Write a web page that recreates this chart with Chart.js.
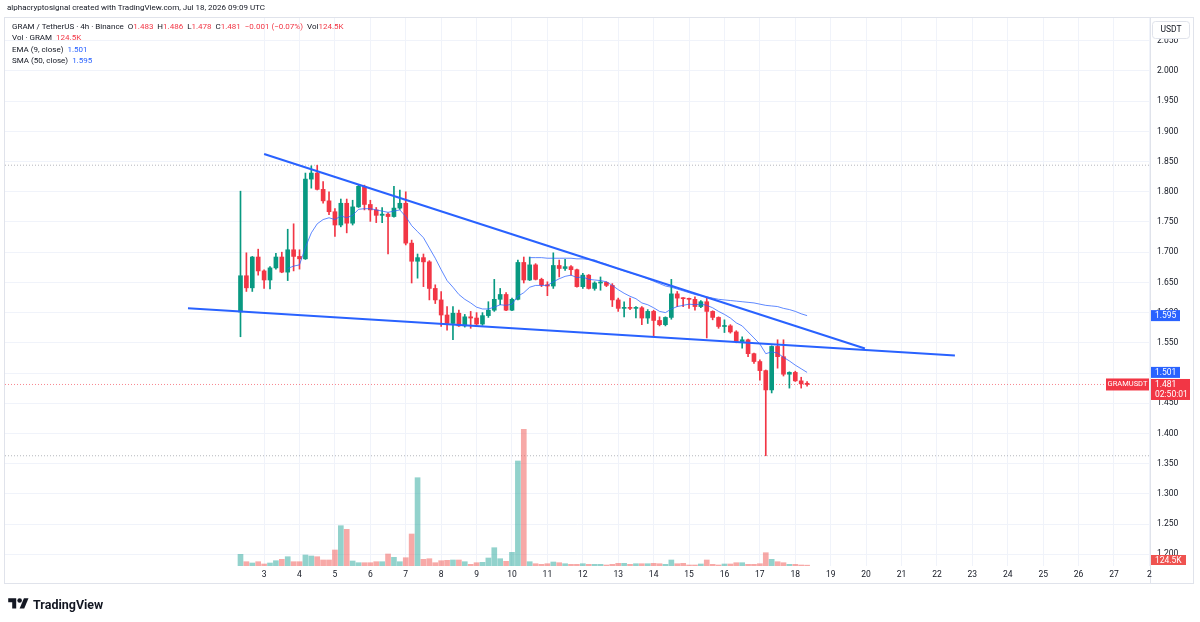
<!DOCTYPE html>
<html>
<head>
<meta charset="utf-8">
<script src="https://cdn.jsdelivr.net/npm/chart.js@4.4.1/dist/chart.umd.min.js"></script>
<style>
  body { margin: 0; background: #fff; font-family: Roboto, sans-serif; color: #131722; }
  #wrap { position: relative; width: 1200px; height: 622px; overflow: hidden; }
  canvas { position: absolute; left: 0; top: 0; }
  .t { position: absolute; white-space: nowrap; font-size: 8px; line-height: 10px; }
  .r { color: #f23645; }
  .b { color: #2962ff; }
  #logo { position: absolute; left: 8px; top: 596px; display: flex; align-items: center; font-weight: 700; font-size: 12.5px; color: #131722; }
  #logo svg { margin-right: 4px; }
</style>
</head>
<body>
<div id="wrap">
  <canvas id="chart" width="1200" height="622"></canvas>
  <div class="t" style="left:7px;top:3px">alphacryptosignal created with TradingView.com, Jul 18, 2026 09:09 UTC</div>
  <div class="t" style="left:12px;top:22px">GRAM / TetherUS · 4h · Binance&nbsp;&nbsp;O<span class="r">1.483</span>&nbsp; H<span class="r">1.486</span>&nbsp; L<span class="r">1.478</span>&nbsp; C<span class="r">1.481</span>&nbsp; <span class="r">−0.001 (−0.07%)</span>&nbsp; Vol<span class="r">124.5K</span></div>
  <div class="t" style="left:12px;top:33px">Vol · GRAM&nbsp; <span class="r">124.5K</span></div>
  <div class="t" style="left:12px;top:45px">EMA (9, close)&nbsp; <span class="b">1.501</span></div>
  <div class="t" style="left:12px;top:56px">SMA (50, close)&nbsp; <span class="b">1.595</span></div>
  <div id="logo">
    <svg width="21" height="16" viewBox="0 0 36 28"><path d="M14 22H7V11H0V4h14v18z" fill="#131722"/><circle cx="20" cy="8" r="4" fill="#131722"/><path d="M28 22h-8l7.5-18h8L28 22z" fill="#131722"/></svg>
    TradingView
  </div>
</div>
<script>
// 4h candles, index 0 = day 2 08:00 UTC
const opens = [1.601,1.661,1.641,1.692,1.669,1.654,1.674,1.692,1.667,1.704,
  1.693,1.689,1.821,1.831,1.804,1.785,1.767,1.745,1.781,1.748,
  1.775,1.809,1.779,1.770,1.761,1.763,1.759,1.773,1.781,1.715,
  1.685,1.691,1.684,1.640,1.621,1.596,1.582,1.599,1.578,1.593,
  1.591,1.581,1.595,1.604,1.622,1.630,1.604,1.622,1.683,1.654,
  1.679,1.655,1.646,1.644,1.678,1.673,1.676,1.671,1.643,1.662,
  1.640,1.649,1.650,1.645,1.621,1.607,1.608,1.607,1.608,1.591,
  1.602,1.587,1.580,1.592,1.631,1.624,1.623,1.622,1.610,1.618,
  1.602,1.592,1.577,1.578,1.568,1.552,1.555,1.532,1.519,1.504,
  1.472,1.544,1.527,1.498,1.501,1.487,1.483];
const highs = [1.801,1.699,1.693,1.705,1.671,1.676,1.698,1.700,1.738,1.747,
  1.704,1.831,1.843,1.844,1.817,1.800,1.772,1.788,1.788,1.786,
  1.811,1.811,1.786,1.774,1.774,1.765,1.809,1.803,1.800,1.720,
  1.697,1.697,1.686,1.646,1.635,1.610,1.610,1.604,1.597,1.602,
  1.600,1.600,1.618,1.655,1.640,1.633,1.624,1.687,1.692,1.692,
  1.681,1.657,1.651,1.699,1.687,1.688,1.678,1.672,1.665,1.663,
  1.651,1.659,1.651,1.648,1.624,1.618,1.624,1.610,1.610,1.605,
  1.604,1.593,1.593,1.655,1.635,1.625,1.624,1.626,1.620,1.624,
  1.603,1.593,1.588,1.580,1.570,1.560,1.556,1.533,1.522,1.505,
  1.545,1.555,1.555,1.502,1.503,1.493,1.486];
const lows = [1.560,1.635,1.635,1.662,1.640,1.639,1.672,1.666,1.653,1.669,
  1.672,1.688,1.806,1.803,1.781,1.762,1.726,1.742,1.732,1.745,
  1.774,1.770,1.751,1.749,1.749,1.697,1.758,1.771,1.712,1.649,
  1.657,1.643,1.621,1.615,1.577,1.571,1.555,1.577,1.576,1.574,
  1.577,1.579,1.592,1.602,1.613,1.603,1.603,1.621,1.649,1.653,
  1.654,1.643,1.628,1.640,1.659,1.670,1.662,1.642,1.640,1.639,
  1.637,1.637,1.643,1.610,1.602,1.593,1.605,1.591,1.580,1.582,
  1.561,1.578,1.578,1.589,1.610,1.610,1.607,1.604,1.608,1.558,
  1.588,1.574,1.567,1.566,1.550,1.541,1.527,1.516,1.488,1.363,
  1.467,1.508,1.495,1.475,1.486,1.475,1.478];
const closes = [1.661,1.641,1.692,1.669,1.654,1.674,1.692,1.667,1.704,1.693,
  1.689,1.821,1.831,1.804,1.785,1.767,1.745,1.781,1.748,1.775,
  1.809,1.779,1.770,1.761,1.763,1.759,1.773,1.781,1.715,1.685,
  1.691,1.684,1.640,1.621,1.596,1.582,1.599,1.578,1.593,1.591,
  1.581,1.595,1.604,1.622,1.630,1.604,1.622,1.683,1.654,1.679,
  1.655,1.646,1.644,1.678,1.673,1.676,1.671,1.643,1.662,1.640,
  1.649,1.650,1.645,1.621,1.607,1.608,1.607,1.608,1.591,1.602,
  1.587,1.580,1.592,1.631,1.624,1.623,1.622,1.610,1.618,1.602,
  1.592,1.577,1.578,1.568,1.552,1.555,1.532,1.519,1.504,1.472,
  1.544,1.527,1.498,1.501,1.487,1.482,1.481];
// volume in thousands
const volumes = [1750,645,450,645,300,450,795,1005,1395,645,
  645,1650,1500,1395,900,900,2400,6045,5505,750,
  495,495,495,645,645,1800,1305,645,1245,4800,
  13245,1005,1095,495,795,855,900,900,645,255,
  495,555,1200,2745,1095,705,2055,15750,20505,645,
  345,255,345,600,495,345,255,255,345,255,
  255,255,150,255,405,405,255,345,345,345,
  405,345,255,900,345,405,150,150,300,900,
  255,150,300,300,495,495,255,255,345,1995,
  1005,645,495,255,255,150,124.5];

const emaStart = 8;
const emaValues = [1.673,1.677,1.679,1.708,1.732,1.747,1.754,1.757,1.754,1.760,
  1.757,1.761,1.771,1.772,1.772,1.770,1.768,1.766,1.768,1.770,
  1.759,1.744,1.734,1.724,1.707,1.690,1.671,1.653,1.642,1.630,
  1.622,1.616,1.609,1.606,1.606,1.609,1.613,1.612,1.614,1.627,
  1.633,1.642,1.645,1.645,1.645,1.651,1.656,1.660,1.662,1.658,
  1.659,1.655,1.654,1.653,1.651,1.645,1.638,1.632,1.627,1.623,
  1.616,1.613,1.608,1.602,1.600,1.606,1.610,1.612,1.614,1.613,
  1.614,1.612,1.608,1.602,1.597,1.591,1.583,1.578,1.568,1.558,
  1.548,1.532,1.535,1.533,1.526,1.520,1.513,1.507,1.501];
const smaStart = 49;
const smaValues = [1.691,1.691,1.691,1.690,1.690,1.690,1.690,1.690,1.689,1.689,
  1.688,1.687,1.683,1.680,1.676,1.672,1.669,1.666,1.663,1.660,
  1.656,1.652,1.648,1.644,1.642,1.639,1.636,1.633,1.630,1.628,
  1.626,1.624,1.622,1.621,1.620,1.619,1.618,1.617,1.616,1.614,
  1.612,1.611,1.610,1.607,1.605,1.602,1.598,1.595];

// drawn trendlines (candle index, price)
const upperTrendX = [4.0, 105.8];
const upperTrendY = [1.8626, 1.5406];
const lowerTrendX = [-8.9, 121.05];
const lowerTrendY = [1.607, 1.5288];

const dayLabels = ['3','4','5','6','7','8','9','10','11','12','13','14','15','16','17','18','19','20','21','22','23','24','25','26','27','28'];
const priceTicks = [1.20,1.25,1.30,1.35,1.40,1.45,1.50,1.55,1.60,1.65,1.70,1.75,1.80,1.85,1.90,1.95,2.00,2.05];

const xMin = -39.9, xMax = 154.1;
const idx = closes.map((c, i) => i);
const last = closes.length - 1;
const isUp = closes.map((c, i) => c >= opens[i]);
const candleColors = isUp.map(u => u ? '#089981' : '#f23645');
const volColors = isUp.map(u => u ? 'rgba(38,166,154,0.5)' : 'rgba(239,83,80,0.5)');
const dayTickValues = dayLabels.map((d, k) => 4 + k * 6);
const hiMax = Math.max(...highs);
const loMin = Math.min(...lows);
const font = { family: 'Roboto', size: 8.5 };

function hLine(value, color) {
  return {
    type: 'line', data: [{ x: xMin, y: value }, { x: xMax, y: value }],
    borderColor: color, borderWidth: 1, borderDash: [1, 2], pointRadius: 0, order: 5
  };
}

function tag(ctx, x, top, w, h, bg, lines, color, center) {
  ctx.fillStyle = bg;
  ctx.fillRect(x, top, w, h);
  ctx.fillStyle = color;
  ctx.textBaseline = 'middle';
  ctx.textAlign = center ? 'center' : 'left';
  lines.forEach((t, k) => ctx.fillText(t, center ? x + w / 2 : x + 4, top + 5.5 + k * 10));
}

const overlay = {
  id: 'overlay',
  beforeDraw(chart) {
    const ctx = chart.ctx;
    ctx.save();
    ctx.fillStyle = '#fff';
    ctx.fillRect(0, 0, chart.width, chart.height);
    ctx.strokeStyle = '#e0e3eb';
    ctx.lineWidth = 1;
    ctx.strokeRect(4.5, 17.5, 1189, 566);
    ctx.beginPath();
    ctx.moveTo(chart.chartArea.right + 0.5, 17.5);
    ctx.lineTo(chart.chartArea.right + 0.5, 583.5);
    ctx.stroke();
    ctx.restore();
  },
  afterDraw(chart) {
    const ctx = chart.ctx;
    const y = chart.scales.y;
    const vol = chart.scales.vol;
    const right = chart.chartArea.right;
    ctx.save();
    ctx.font = '8.5px Roboto';
    const smaY = y.getPixelForValue(smaValues[smaValues.length - 1]);
    tag(ctx, right + 1, smaY - 5.5, 29, 11, '#2962ff', [smaValues[smaValues.length - 1].toFixed(3)], '#fff');
    const emaY = y.getPixelForValue(emaValues[emaValues.length - 1]);
    tag(ctx, right + 1, emaY - 5.5, 29, 11, '#2962ff', [emaValues[emaValues.length - 1].toFixed(3)], '#fff');
    const cY = y.getPixelForValue(closes[last]);
    tag(ctx, right + 1, cY - 5.5, 39, 21, '#f23645', [closes[last].toFixed(3), '02:50:01'], '#fff');
    ctx.font = '7.5px Roboto';
    tag(ctx, right - 44, cY - 6, 43, 12, '#f23645', ['GRAMUSDT'], '#fff', true);
    ctx.font = '8.5px Roboto';
    const vY = Math.min(vol.getPixelForValue(volumes[last]), chart.chartArea.bottom - 6);
    tag(ctx, right + 1, vY - 5, 35, 10, '#ef5350', [volumes[last] + 'K'], '#fff');
    // currency box
    ctx.fillStyle = '#fff';
    ctx.strokeStyle = '#e0e3eb';
    ctx.beginPath();
    ctx.roundRect(right + 2.5, 21.5, 37, 17, 3);
    ctx.fill();
    ctx.stroke();
    ctx.fillStyle = '#131722';
    ctx.textAlign = 'center';
    ctx.textBaseline = 'middle';
    ctx.fillText('USDT', right + 21, 30);
    ctx.restore();
  }
};

new Chart(document.getElementById('chart'), {
  type: 'bar',
  data: {
    datasets: [
      { type: 'line', label: 'EMA', data: emaValues.map((v, k) => ({ x: emaStart + k, y: v })),
        borderColor: 'rgba(41,98,255,0.75)', borderWidth: 1, pointRadius: 0, order: 0 },
      { type: 'line', label: 'SMA', data: smaValues.map((v, k) => ({ x: smaStart + k, y: v })),
        borderColor: 'rgba(41,98,255,0.75)', borderWidth: 1, pointRadius: 0, order: 0 },
      { type: 'line', label: 'upper', data: upperTrendX.map((x, k) => ({ x, y: upperTrendY[k] })),
        borderColor: '#2962ff', borderWidth: 2, pointRadius: 0, order: 0 },
      { type: 'line', label: 'lower', data: lowerTrendX.map((x, k) => ({ x, y: lowerTrendY[k] })),
        borderColor: '#2962ff', borderWidth: 2, pointRadius: 0, order: 0 },
      { label: 'body', data: idx.map(i => ({ x: i, y: [opens[i], closes[i]] })),
        backgroundColor: candleColors, barThickness: 4, minBarLength: 1, grouped: false, order: 1 },
      { label: 'wick', data: idx.map(i => ({ x: i, y: [lows[i], highs[i]] })),
        backgroundColor: candleColors, barThickness: 1, grouped: false, order: 2 },
      { label: 'volume', data: idx.map(i => ({ x: i, y: volumes[i] })), yAxisID: 'vol',
        backgroundColor: volColors, barThickness: 5, grouped: false, order: 3 },
      hLine(closes[last], 'rgba(242,54,69,0.6)'),
      hLine(hiMax, 'rgba(149,152,161,0.7)'),
      hLine(loMin, 'rgba(149,152,161,0.7)')
    ]
  },
  options: {
    responsive: false,
    animation: false,
    events: [],
    layout: { padding: { left: 5, right: 10, top: 18, bottom: 36 } },
    plugins: { legend: { display: false }, tooltip: { enabled: false } },
    scales: {
      x: {
        type: 'linear', min: xMin, max: xMax, offset: false,
        grid: { color: '#f0f3fa', offset: false, drawTicks: false },
        border: { display: false },
        afterBuildTicks: s => { s.ticks = dayTickValues.map(v => ({ value: v })); },
        afterFit: s => { s.height = 20; },
        ticks: {
          font, color: '#131722', padding: 4, maxRotation: 0, autoSkip: false,
          callback: (v) => {
            const lab = dayLabels[dayTickValues.indexOf(v)];
            return v > 150 ? lab.slice(0, 1) : lab;
          }
        }
      },
      y: {
        type: 'linear', position: 'right', min: 1.1805, max: 2.0877,
        grid: { color: '#f0f3fa', drawTicks: false },
        border: { display: false },
        afterBuildTicks: s => { s.ticks = priceTicks.map(v => ({ value: v })); },
        afterFit: s => { s.width = 40; },
        ticks: { font, color: '#131722', padding: 7, callback: v => v.toFixed(3) }
      },
      vol: {
        type: 'linear', display: false, min: 0, max: 82200
      }
    }
  },
  plugins: [overlay]
});
</script>
</body>
</html>
